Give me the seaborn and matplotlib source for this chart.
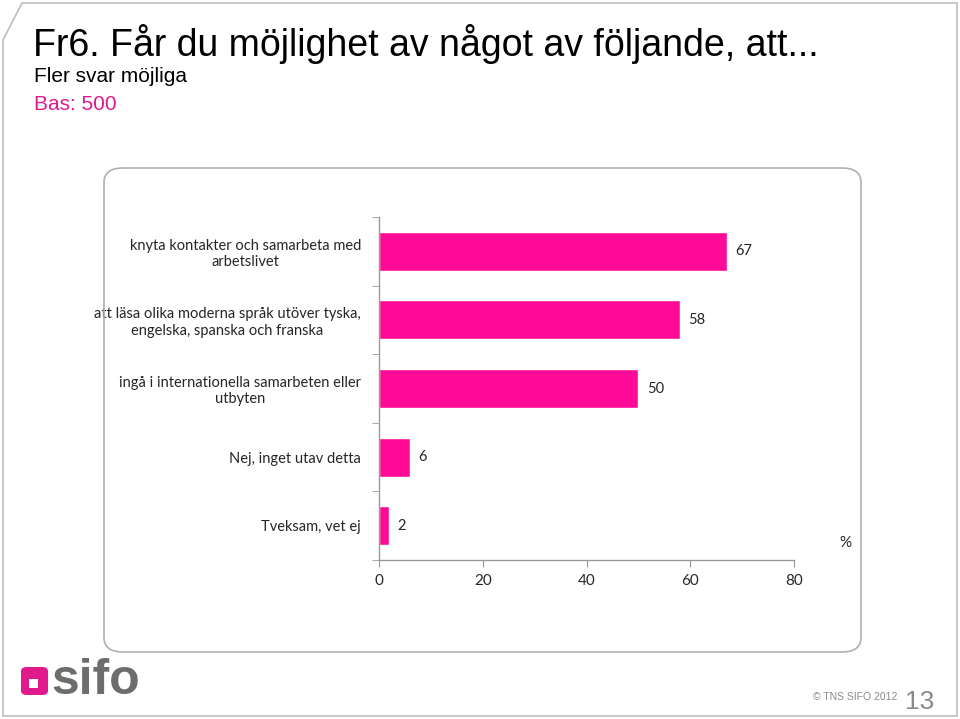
import matplotlib
matplotlib.use("Agg")
import matplotlib.pyplot as plt
import seaborn as sns
import pandas as pd
from matplotlib.patches import FancyBboxPatch, Polygon, Rectangle

# Data
categories = [
    "knyta kontakter och samarbeta med\narbetslivet",
    "att läsa olika moderna språk utöver tyska,\nengelska, spanska och franska",
    "ingå i internationella samarbeten eller\nutbyten",
    "Nej, inget utav detta",
    "Tveksam, vet ej",
]
values = [67, 58, 50, 6, 2]
x_ticks = [0, 20, 40, 60, 80]

PINK = "#FF0A96"
W, H = 960, 719

sns.set_style("white")
label_font = ["Lato", "DejaVu Sans"]
title_font = ["Liberation Sans Narrow", "Liberation Sans", "DejaVu Sans"]

df = pd.DataFrame({"category": categories, "value": values})

fig = plt.figure(figsize=(9.6, 7.19), dpi=100)


def fx(px):
    return px / W


def fy(py):
    return 1 - py / H


# slide border with cut corner
slide = Polygon([(fx(3), fy(40)), (fx(22), fy(3)), (fx(957), fy(3)),
                 (fx(957), fy(716)), (fx(3), fy(716))],
                closed=True, fill=False, edgecolor="#bdbdbd", lw=1.2,
                transform=fig.transFigure)
fig.add_artist(slide)

# rounded chart panel
panel = FancyBboxPatch((fx(104), fy(652)), fx(861) - fx(104), fy(168) - fy(652),
                       boxstyle="round,pad=0,rounding_size=0.02",
                       fill=False, edgecolor="#b0b0b0", lw=1.2,
                       transform=fig.transFigure)
fig.add_artist(panel)

# titles
fig.text(fx(33), fy(44), "Fr6. Får du möjlighet av något av följande, att...",
         fontsize=27, family=title_font, va="center", ha="left", color="black")
fig.text(fx(34), fy(76), "Fler svar möjliga", fontsize=15, family=title_font,
         va="center", ha="left", color="black")
fig.text(fx(34), fy(104), "Bas: 500", fontsize=15, family=title_font,
         va="center", ha="left", color="#E0198C")

# chart
ax = fig.add_axes([fx(379), fy(560), fx(794) - fx(379), fy(217) - fy(560)])
sns.barplot(data=df, x="value", y="category", orient="h", color=PINK,
            width=0.57, saturation=1, ax=ax)

ax.set_xlim(0, 80)
ax.set_ylim(len(categories) - 0.5, -0.5)
ax.set_xticks(x_ticks)
ax.set_xticklabels([str(t) for t in x_ticks], fontsize=11, family=label_font)
ax.set_xlabel("")
ax.set_ylabel("")
for lbl in ax.get_yticklabels():
    lbl.set_multialignment("center")
    lbl.set_fontsize(10.5)
    lbl.set_family(label_font)

ax.tick_params(axis="y", which="major", length=0, pad=13)
ax.set_yticks([i + 0.5 for i in range(-1, len(categories))], minor=True)
ax.tick_params(axis="y", which="minor", length=5, color="#999999", direction="out", left=True)
ax.tick_params(axis="x", which="major", length=5, color="#999999", direction="out",
               bottom=True, pad=5)

for s in ["top", "right"]:
    ax.spines[s].set_visible(False)
for s in ["left", "bottom"]:
    ax.spines[s].set_color("#999999")
    ax.spines[s].set_linewidth(1)

for container in ax.containers:
    ax.bar_label(container, labels=[str(v) for v in values], padding=6,
                 fontsize=10.5, family=label_font)

ax.text(1.123, 0.05, "%", transform=ax.transAxes, fontsize=11,
        family=label_font, ha="center", va="center")

# logo
logo = FancyBboxPatch((fx(21), fy(695)), fx(48) - fx(21), fy(667) - fy(695),
                      boxstyle="round,pad=0,rounding_size=0.006",
                      facecolor="#E0198C", edgecolor="none",
                      transform=fig.transFigure)
fig.add_artist(logo)
fig.add_artist(Rectangle((fx(29), fy(688)), fx(38) - fx(29), fy(679) - fy(688),
                         facecolor="white", edgecolor="none",
                         transform=fig.transFigure))
fig.text(fx(51), fy(681), "sifo", fontsize=36, family=["Liberation Sans", "DejaVu Sans"],
         fontweight="bold", color="#6d6d6d", va="center", ha="left")
fig.text(fx(897), fy(697), "© TNS SIFO 2012", fontsize=7.5,
         family=["Liberation Sans", "DejaVu Sans"], color="#8a8a8a",
         va="center", ha="right")
fig.text(fx(905), fy(702), "13", fontsize=19,
         family=title_font, color="#8a8a8a", va="center", ha="left")

fig.savefig("out.png", dpi=100)
